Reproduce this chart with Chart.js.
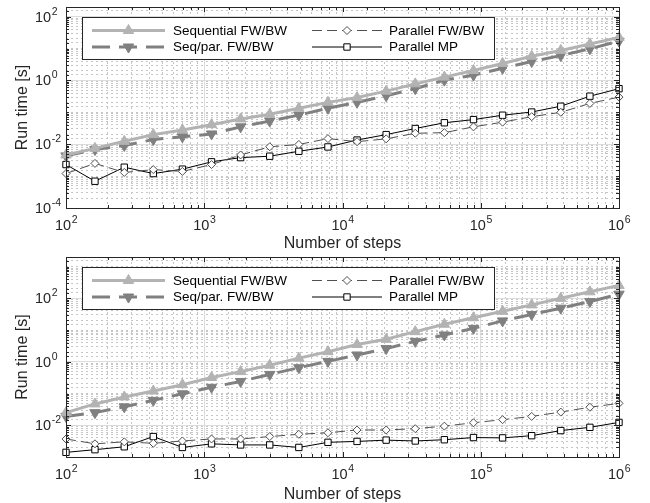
<!DOCTYPE html>
<html>
<head>
<meta charset="utf-8">
<script src="https://cdn.jsdelivr.net/npm/chart.js@4.4.0/dist/chart.umd.min.js"></script>
<style>
  body { margin: 0; background: #fff; }
  #wrap { position: relative; width: 650px; height: 503px; }
  .panel { position: absolute; left: 0; }
</style>
</head>
<body>
<div id="wrap">
  <div class="panel" style="top:0"><canvas id="topChart" width="650" height="252"></canvas></div>
  <div class="panel" style="top:250px"><canvas id="bottomChart" width="650" height="253"></canvas></div>
</div>
<script>
'use strict';

// number of steps, shared by both panels
var steps = [100, 162, 264, 428, 695, 1129, 1833, 2976, 4833, 7848, 12743, 20691, 33598, 54556, 88587, 143845, 233572, 379269, 615848, 1000000];

// legend names
var seriesNames = ['Sequential FW/BW', 'Seq/par. FW/BW', 'Parallel FW/BW', 'Parallel MP'];

// top panel run times [s]
var topSeq = [0.0046, 0.0074, 0.0123, 0.020, 0.028, 0.041, 0.062, 0.087, 0.134, 0.205, 0.29, 0.46, 0.78, 1.27, 2.04, 3.4, 5.7, 8.7, 13.9, 22.3];
var topSeqPar = [0.0043, 0.0068, 0.0091, 0.014, 0.017, 0.021, 0.035, 0.053, 0.082, 0.134, 0.205, 0.33, 0.55, 1.02, 1.46, 2.4, 3.9, 6.0, 9.8, 17];
var topParFwBw = [0.0012, 0.0025, 0.0013, 0.0016, 0.0014, 0.0023, 0.0046, 0.0083, 0.0098, 0.015, 0.012, 0.0147, 0.022, 0.023, 0.035, 0.049, 0.073, 0.10, 0.19, 0.30];
var topParMp = [0.0023, 0.00069, 0.0019, 0.0012, 0.00165, 0.0028, 0.0038, 0.0042, 0.0060, 0.0082, 0.0135, 0.020, 0.031, 0.047, 0.059, 0.081, 0.102, 0.155, 0.32, 0.55];

// bottom panel run times [s]
var botSeq = [0.025, 0.047, 0.078, 0.12, 0.19, 0.32, 0.49, 0.78, 1.30, 2.08, 3.5, 5.1, 8.9, 15.2, 24.4, 39, 62, 100, 160, 255];
var botSeqPar = [0.019, 0.025, 0.038, 0.061, 0.098, 0.157, 0.24, 0.40, 0.65, 1.03, 1.64, 2.6, 4.4, 7.0, 11.3, 19.4, 31, 49, 79, 135];
var botParFwBw = [0.0037, 0.0026, 0.0030, 0.0027, 0.0032, 0.0037, 0.0037, 0.0044, 0.0052, 0.0058, 0.0071, 0.0071, 0.0078, 0.0094, 0.012, 0.015, 0.019, 0.026, 0.037, 0.049];
var botParMp = [0.0014, 0.0017, 0.0021, 0.0044, 0.0020, 0.0026, 0.0024, 0.0024, 0.0020, 0.0029, 0.0031, 0.0034, 0.0032, 0.0035, 0.0041, 0.0040, 0.0047, 0.0068, 0.0086, 0.0123];

// axis limits
var xRange = [100, 1000000];
var topYRange = [0.0001, 200];
var botYRange = [0.001, 2000];

var textColor = '#262626';
var fontName = "'Liberation Sans', Arial, sans-serif";

// helpers for log ticks
function isDecade(v) {
  var e = Math.log10(v);
  return Math.abs(e - Math.round(e)) < 1e-6;
}
function isEvenDecade(v) {
  return isDecade(v) && Math.round(Math.log10(v)) % 2 === 0;
}

// draws "10" with a raised exponent, like 10^-2
function drawPow(ctx, v, x, baseY, align) {
  var exp = String(Math.round(Math.log10(v)));
  ctx.font = '14.5px ' + fontName;
  var wBase = ctx.measureText('10').width;
  ctx.font = '10.5px ' + fontName;
  var wExp = ctx.measureText(exp).width;
  var x0 = align === 'center' ? x - (wBase + wExp) / 2 : x;
  ctx.textAlign = 'left';
  ctx.textBaseline = 'alphabetic';
  ctx.font = '14.5px ' + fontName;
  ctx.fillText('10', x0, baseY);
  ctx.font = '10.5px ' + fontName;
  ctx.fillText(exp, x0 + wBase + 0.5, baseY - 7);
}

// build the four datasets for one panel
function makeDatasets(seq, seqPar, parFwBw, parMp) {
  function pts(vals) {
    return steps.map(function (s, i) { return { x: s, y: vals[i] }; });
  }
  return [
    {
      label: seriesNames[0], data: pts(seq),
      borderColor: '#b3b3b3', borderWidth: 3,
      pointStyle: 'triangle', pointRadius: 6, rotation: 0,
      pointBackgroundColor: '#b3b3b3', pointBorderColor: '#b3b3b3', pointBorderWidth: 1
    },
    {
      label: seriesNames[1], data: pts(seqPar),
      borderColor: '#808080', borderWidth: 3, borderDash: [18, 9],
      pointStyle: 'triangle', pointRadius: 6, rotation: 180,
      pointBackgroundColor: '#808080', pointBorderColor: '#808080', pointBorderWidth: 1
    },
    {
      label: seriesNames[2], data: pts(parFwBw),
      borderColor: '#505050', borderWidth: 1, borderDash: [10, 5],
      pointStyle: 'rectRot', pointRadius: 4, rotation: 0,
      pointBackgroundColor: '#ffffff', pointBorderColor: '#505050', pointBorderWidth: 1
    },
    {
      label: seriesNames[3], data: pts(parMp),
      borderColor: '#000000', borderWidth: 1,
      pointStyle: 'rect', pointRadius: 4.5, rotation: 0,
      pointBackgroundColor: '#ffffff', pointBorderColor: '#000000', pointBorderWidth: 1
    }
  ];
}

// legend box inside the plot, two columns
var boxLegend = {
  id: 'boxLegend',
  afterDatasetsDraw: function (chart) {
    var ctx = chart.ctx;
    var a = chart.chartArea;
    var bx = a.left + 16, by = a.top + 10, bw = 412, bh = 42;
    ctx.save();
    ctx.fillStyle = '#ffffff';
    ctx.fillRect(bx, by, bw, bh);
    ctx.strokeStyle = textColor;
    ctx.lineWidth = 1;
    ctx.strokeRect(bx + 0.5, by + 0.5, bw, bh);
    var cols = [{ x0: 10, x1: 83, tx: 91 }, { x0: 230, x1: 300, tx: 307 }];
    var rows = [13.5, 30];
    chart.data.datasets.forEach(function (ds, i) {
      var c = cols[Math.floor(i / 2)];
      var y = by + rows[i % 2];
      ctx.save();
      ctx.strokeStyle = ds.borderColor;
      ctx.lineWidth = ds.borderWidth;
      ctx.setLineDash(ds.borderDash || []);
      ctx.beginPath();
      ctx.moveTo(bx + c.x0, y);
      ctx.lineTo(bx + c.x1, y);
      ctx.stroke();
      ctx.setLineDash([]);
      ctx.fillStyle = ds.pointBackgroundColor;
      ctx.strokeStyle = ds.pointBorderColor;
      ctx.lineWidth = ds.pointBorderWidth;
      Chart.helpers.drawPoint(ctx, {
        pointStyle: ds.pointStyle, rotation: ds.rotation,
        radius: ds.pointRadius, borderWidth: ds.pointBorderWidth
      }, bx + (c.x0 + c.x1) / 2, y);
      ctx.restore();
      ctx.fillStyle = '#000000';
      ctx.font = '13.5px ' + fontName;
      ctx.textBaseline = 'middle';
      ctx.fillText(ds.label, bx + c.tx, y + 0.5);
    });
    ctx.restore();
  }
};

// box around the axes, inward tick marks on all four sides, power-of-ten labels
var axesFrame = {
  id: 'axesFrame',
  afterDraw: function (chart) {
    var ctx = chart.ctx;
    var a = chart.chartArea;
    var xs = chart.scales.x, ys = chart.scales.y;
    ctx.save();
    ctx.strokeStyle = textColor;
    ctx.lineWidth = 1;
    ctx.beginPath();
    xs.ticks.forEach(function (t) {
      var px = Math.round(xs.getPixelForValue(t.value)) + 0.5;
      var len = isDecade(t.value) ? 5 : 3;
      ctx.moveTo(px, a.bottom); ctx.lineTo(px, a.bottom - len);
      ctx.moveTo(px, a.top); ctx.lineTo(px, a.top + len);
    });
    ys.ticks.forEach(function (t) {
      var py = Math.round(ys.getPixelForValue(t.value)) + 0.5;
      var len = isEvenDecade(t.value) ? 5 : 3;
      ctx.moveTo(a.left, py); ctx.lineTo(a.left + len, py);
      ctx.moveTo(a.right, py); ctx.lineTo(a.right - len, py);
    });
    ctx.stroke();
    ctx.strokeRect(Math.round(a.left) + 0.5, Math.round(a.top) + 0.5, Math.round(a.right - a.left), Math.round(a.bottom - a.top));

    ctx.fillStyle = textColor;
    xs.ticks.forEach(function (t) {
      if (isDecade(t.value)) {
        drawPow(ctx, t.value, xs.getPixelForValue(t.value), a.bottom + 22, 'center');
      }
    });
    ys.ticks.forEach(function (t) {
      if (isEvenDecade(t.value)) {
        drawPow(ctx, t.value, a.left - 31, ys.getPixelForValue(t.value) + 5, 'left');
      }
    });
    ctx.restore();
  }
};

function makeChart(canvasId, datasets, yRange, xAxisHeight) {
  var ctx = document.getElementById(canvasId).getContext('2d');
  return new Chart(ctx, {
    type: 'line',
    data: { datasets: datasets },
    options: {
      responsive: false,
      animation: false,
      events: [],
      clip: false,
      layout: { padding: { top: 3, right: 31, left: 0, bottom: 0 } },
      plugins: { legend: { display: false }, tooltip: { enabled: false } },
      scales: {
        x: {
          type: 'logarithmic',
          min: xRange[0],
          max: xRange[1],
          afterFit: function (scale) {
            scale.height = xAxisHeight;
            scale.paddingLeft = 0;
            scale.paddingRight = 0;
          },
          grid: {
            drawTicks: false,
            color: function (c) {
              if (!c.tick) return '#dcdcdc';
              return isDecade(c.tick.value) ? '#dcdcdc' : '#c6c6c6';
            },
            lineWidth: 1
          },
          border: {
            display: false,
            dash: function (c) {
              if (!c.tick) return [];
              return isDecade(c.tick.value) ? [] : [2, 3];
            }
          },
          ticks: { display: false, autoSkip: false },
          title: {
            display: true,
            text: 'Number of steps',
            color: textColor,
            font: { family: fontName, size: 16, lineHeight: 1 },
            padding: { top: 0, bottom: 0 }
          }
        },
        y: {
          type: 'logarithmic',
          min: yRange[0],
          max: yRange[1],
          afterFit: function (scale) {
            scale.width = 66;
            scale.paddingTop = 0;
            scale.paddingBottom = 0;
          },
          grid: {
            drawTicks: false,
            color: function (c) {
              if (!c.tick) return '#dcdcdc';
              return isEvenDecade(c.tick.value) ? '#dcdcdc' : '#c6c6c6';
            },
            lineWidth: 1
          },
          border: {
            display: false,
            dash: function (c) {
              if (!c.tick) return [];
              return isEvenDecade(c.tick.value) ? [] : [2, 3];
            }
          },
          ticks: { display: false, autoSkip: false },
          title: {
            display: true,
            text: 'Run time [s]',
            color: textColor,
            font: { family: fontName, size: 16, lineHeight: 1 },
            padding: { top: 15, bottom: 0 }
          }
        }
      }
    },
    plugins: [boxLegend, axesFrame]
  });
}

makeChart('topChart', makeDatasets(topSeq, topSeqPar, topParFwBw, topParMp), topYRange, 44);
makeChart('bottomChart', makeDatasets(botSeq, botSeqPar, botParFwBw, botParMp), botYRange, 46);
</script>
</body>
</html>
